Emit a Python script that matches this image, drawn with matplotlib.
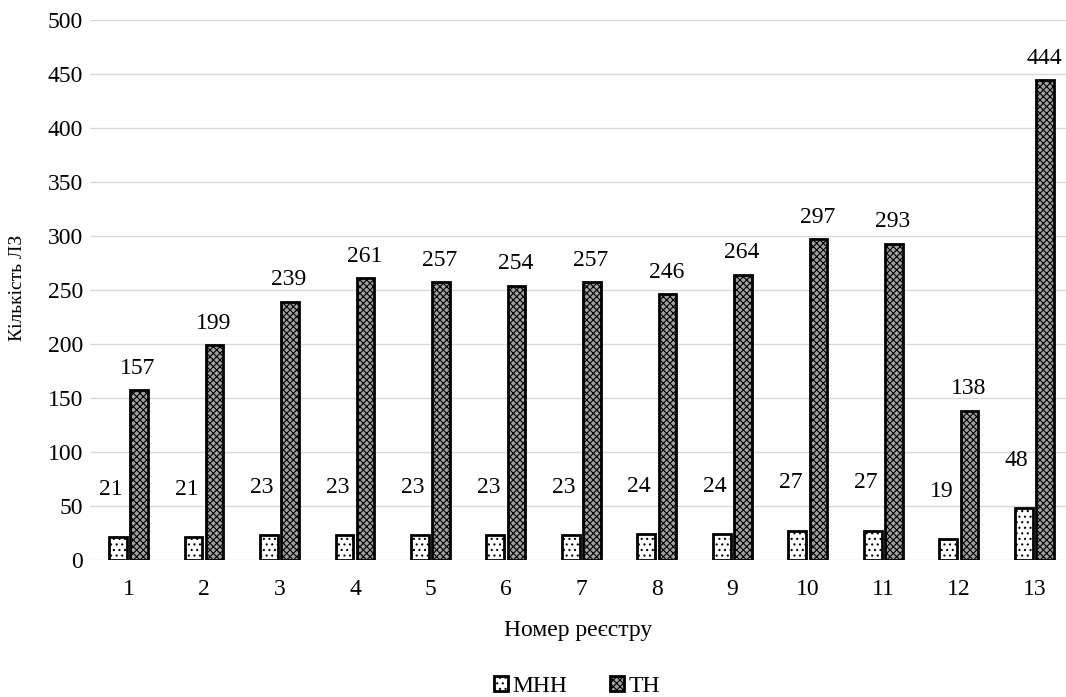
import numpy as np
import matplotlib.pyplot as plt

plt.rcParams['font.family'] = ['Liberation Serif', 'DejaVu Serif']
plt.rcParams['hatch.linewidth'] = 0.8

# data
registers = ['1', '2', '3', '4', '5', '6', '7', '8', '9', '10', '11', '12', '13']
mnn = [21, 21, 23, 23, 23, 23, 23, 24, 24, 27, 27, 19, 48]
tn = [157, 199, 239, 261, 257, 254, 257, 246, 264, 297, 293, 138, 444]

W, H = 1066, 697
fig = plt.figure(figsize=(W / 100, H / 100), dpi=100)
ax = fig.add_axes([90 / W, (H - 560) / H, (W - 90) / W, 540 / H])

x = np.arange(len(registers))
bw = 0.235
off = 0.14
b1 = ax.bar(x - off, mnn, bw, color='white', edgecolor='black', linewidth=2,
            hatch='...', label='МНН')
b2 = ax.bar(x + off, tn, bw, color='#a0a0a0', edgecolor='black', linewidth=2,
            hatch='xxxxx', label='ТН')

fs = 17
for xi, v in zip(x, mnn):
    ax.annotate(str(v), (xi - off, v), xytext=(-7, 48), textcoords='offset pixels',
                ha='center', va='center', fontsize=fs)
for xi, v in zip(x, tn):
    ax.annotate(str(v), (xi + off, v), xytext=(-1, 22), textcoords='offset pixels',
                ha='center', va='center', fontsize=fs)

ax.set_xlim(-0.51, 12.42)
ax.set_ylim(0, 500)
ax.set_yticks(range(0, 501, 50))
ax.set_xticks(x)
ax.set_xticklabels(registers)
ax.tick_params(length=0, labelsize=fs)
ax.tick_params(axis='x', pad=14)
ax.tick_params(axis='y', pad=5)
ax.grid(axis='y', color='#d9d9d9', linewidth=1)
ax.set_axisbelow(True)
for s in ax.spines.values():
    s.set_visible(False)

ax.set_xlabel('Номер реєстру', fontsize=fs, labelpad=14)
fig.text(18 / W, (H - 288) / H, 'Кількість ЛЗ', rotation=90, fontsize=14,
         ha='center', va='center')

fig.legend(handles=[b1, b2], loc='center', bbox_to_anchor=(577 / W, (H - 686) / H),
           ncol=2, frameon=False, fontsize=fs, handlelength=0.6, handleheight=0.6,
           handletextpad=0.2, columnspacing=1.8, borderpad=0)

fig.savefig('out.png', dpi=100)
